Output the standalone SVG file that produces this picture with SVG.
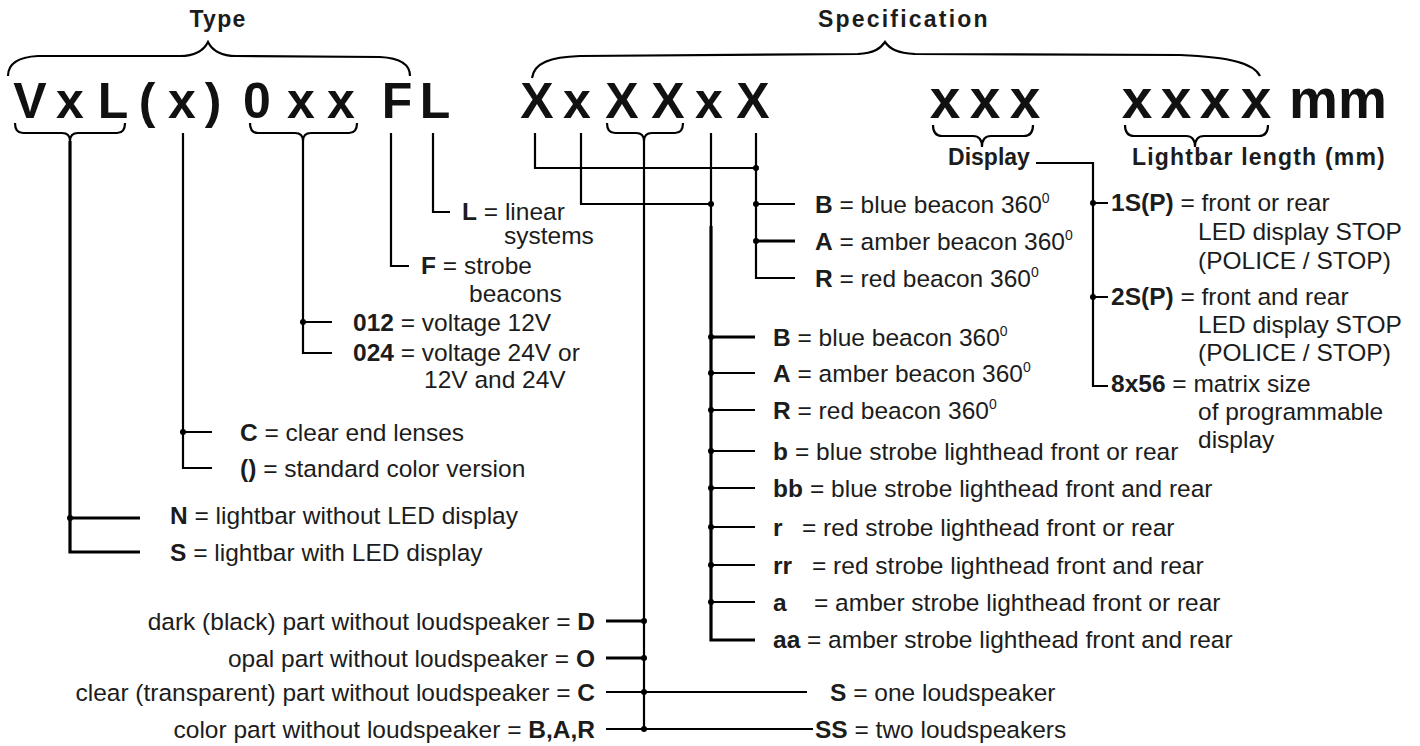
<svg xmlns="http://www.w3.org/2000/svg" width="1420" height="746" viewBox="0 0 1420 746">
<style>
text{font-family:"Liberation Sans",Arial,sans-serif;fill:#1c1c1c}
.big{font-size:50px;font-weight:bold;text-anchor:middle;fill:#111}
.big2{font-size:55px;font-weight:bold;text-anchor:middle;fill:#111}
.mm{font-size:55px;font-weight:bold;text-anchor:start;fill:#111}
.hd{font-size:23px;font-weight:bold}
.t{font-size:24.5px}
.b{font-weight:bold}
.sup{font-size:14px}
.ln{fill:none;stroke:#000;stroke-width:2.2}
.th{fill:none;stroke:#000;stroke-width:3.2}
.br{fill:none;stroke:#000;stroke-width:2.2}
.dot{fill:#000}
</style>
<rect width="1420" height="746" fill="#fff"/>

<g id="type-header">
<text class="hd" x="218" y="27" text-anchor="middle" letter-spacing="1.3">Type</text>
<path class="br" d="M8 76 C8 63 18 57 38 56 L180 56 C197 56 204 50 208 42 C212 50 219 56 236 56 L380 57 C400 58 410 64 410 76"/>
</g>
<g id="spec-header">
<text class="hd" x="818" y="27" letter-spacing="2.2">Specification</text>
<path class="br" d="M532 78 C534 63 550 57 580 56 L858 54 C874 53 880 49 885 42 C890 49 897 53 915 54 L1180 55 C1232 57 1254 64 1260 76"/>
</g>

<g id="code-type">
<text class="big" x="30" y="118">V</text>
<text class="big" x="70" y="118">x</text>
<text class="big" x="113" y="118">L</text>
<text class="big" x="147" y="118">(</text>
<text class="big" x="182" y="118">x</text>
<text class="big" x="213" y="118">)</text>
<text class="big" x="257" y="118">0</text>
<text class="big" x="301" y="118">x</text>
<text class="big" x="341" y="118">x</text>
<text class="big" x="397" y="118">F</text>
<text class="big" x="435" y="118">L</text>
</g>
<g id="code-spec">
<text class="big" x="537" y="118">X</text>
<text class="big" x="577" y="118">x</text>
<text class="big" x="622" y="118">X</text>
<text class="big" x="668" y="118">X</text>
<text class="big" x="709" y="118">x</text>
<text class="big" x="753" y="118">X</text>
</g>
<g id="code-display">
<text class="big2" x="945" y="118">x</text>
<text class="big2" x="985" y="118">x</text>
<text class="big2" x="1025" y="118">x</text>
<text class="hd" x="989" y="165" text-anchor="middle">Display</text>
</g>
<g id="code-length">
<text class="big2" x="1137" y="118">x</text>
<text class="big2" x="1176" y="118">x</text>
<text class="big2" x="1215" y="118">x</text>
<text class="big2" x="1256" y="118">x</text>
<text class="mm" x="1289" y="118">mm</text>
<text class="hd" x="1132" y="165" letter-spacing="1.2">Lightbar length (mm)</text>
</g>

<g id="connectors">
<path class="br" d="M15 123 Q15 133 23 133 H62 Q70 133 70 141 Q70 133 78 133 H117 Q125 133 125 123"/>
<path class="br" d="M250 123 Q250 133 258 133 H295 Q303 133 303 141 Q303 133 311 133 H349 Q357 133 357 123"/>
<path class="br" d="M607 123 Q607 133 615 133 H636 Q644 133 644 141 Q644 133 652 133 H675 Q683 133 683 123"/>
<path class="br" d="M933 125 Q933 136 942 136 H973 Q982 136 982 147 Q982 136 991 136 H1024 Q1033 136 1033 125"/>
<path class="br" d="M1125 125 Q1125 136 1134 136 H1186 Q1195 136 1195 147 Q1195 136 1204 136 H1259 Q1268 136 1268 125"/>
<path class="th" d="M70 141 V552 H140 M70 518 H140"/>
<circle class="dot" cx="70" cy="518" r="3"/>
<path class="ln" d="M183 133 V468 H212 M183 432 H212"/>
<circle class="dot" cx="183" cy="432" r="3"/>
<path class="ln" d="M303 141 V353 H332 M303 322 H332"/>
<circle class="dot" cx="303" cy="322" r="3"/>
<path class="ln" d="M391 133 V266 H409"/>
<path class="ln" d="M433 133 V212 H450"/>
<path class="ln" d="M535 133 V168 H756"/>
<path class="ln" d="M756 133 V278 H795 M756 204 H795"/>
<path class="th" d="M756 241 H795"/>
<circle class="dot" cx="756" cy="168" r="3"/>
<circle class="dot" cx="756" cy="204" r="3"/>
<circle class="dot" cx="756" cy="241" r="3"/>
<path class="ln" d="M581 133 V204 H711 M711 133 V226"/>
<circle class="dot" cx="711" cy="204" r="3"/>
<path class="th" d="M711 226 V640 H755 M711 337 H755"/>
<path class="ln" d="M711 373 H755 M711 410 H755 M711 451 H755 M711 488 H755 M711 527 H755 M711 565 H755 M711 602 H755"/>
<circle class="dot" cx="711" cy="337" r="3"/>
<circle class="dot" cx="711" cy="373" r="3"/>
<circle class="dot" cx="711" cy="410" r="3"/>
<circle class="dot" cx="711" cy="451" r="3"/>
<circle class="dot" cx="711" cy="488" r="3"/>
<circle class="dot" cx="711" cy="527" r="3"/>
<circle class="dot" cx="711" cy="565" r="3"/>
<circle class="dot" cx="711" cy="602" r="3"/>
<path class="ln" d="M644 141 V729"/>
<path class="th" d="M606 621 H644 M606 658 H644"/>
<path class="ln" d="M606 692 H807 M606 729 H813"/>
<circle class="dot" cx="644" cy="621" r="3"/>
<circle class="dot" cx="644" cy="658" r="3"/>
<circle class="dot" cx="644" cy="692" r="3"/>
<circle class="dot" cx="644" cy="729" r="3"/>
<path class="ln" d="M1036 163 H1093 V386 H1108 M1093 203 H1108 M1093 297 H1108"/>
<circle class="dot" cx="1093" cy="203" r="3"/>
<circle class="dot" cx="1093" cy="297" r="3"/>
</g>

<g id="opt-L"><text class="t" x="462" y="220"><tspan class="b">L</tspan> = linear</text><text class="t" x="504" y="244">systems</text></g>
<g id="opt-F"><text class="t" x="421" y="274"><tspan class="b">F</tspan> = strobe</text><text class="t" x="469" y="302">beacons</text></g>
<g id="opt-012"><text class="t" x="353" y="331"><tspan class="b">012</tspan> = voltage 12V</text></g>
<g id="opt-024"><text class="t" x="353" y="361"><tspan class="b">024</tspan> = voltage 24V or</text><text class="t" x="424" y="388">12V and 24V</text></g>
<g id="opt-C"><text class="t" x="240" y="441"><tspan class="b">C</tspan> = clear end lenses</text></g>
<g id="opt-std"><text class="t" x="240" y="477"><tspan class="b">()</tspan> = standard color version</text></g>
<g id="opt-N"><text class="t" x="170" y="524"><tspan class="b">N</tspan> = lightbar without LED display</text></g>
<g id="opt-S"><text class="t" x="170" y="561"><tspan class="b">S</tspan> = lightbar with LED display</text></g>

<g id="top-B"><text class="t" x="815" y="213"><tspan class="b">B</tspan> = blue beacon 360<tspan class="sup" dy="-10">0</tspan></text></g>
<g id="top-A"><text class="t" x="815" y="250"><tspan class="b">A</tspan> = amber beacon 360<tspan class="sup" dy="-10">0</tspan></text></g>
<g id="top-R"><text class="t" x="815" y="287"><tspan class="b">R</tspan> = red beacon 360<tspan class="sup" dy="-10">0</tspan></text></g>

<g id="mid-B"><text class="t" x="773" y="346"><tspan class="b">B</tspan> = blue beacon 360<tspan class="sup" dy="-10">0</tspan></text></g>
<g id="mid-A"><text class="t" x="773" y="382"><tspan class="b">A</tspan> = amber beacon 360<tspan class="sup" dy="-10">0</tspan></text></g>
<g id="mid-R"><text class="t" x="773" y="419"><tspan class="b">R</tspan> = red beacon 360<tspan class="sup" dy="-10">0</tspan></text></g>
<g id="mid-b"><text class="t" x="773" y="460"><tspan class="b">b</tspan><tspan x="795">= blue strobe lighthead front or rear</tspan></text></g>
<g id="mid-bb"><text class="t" x="773" y="497"><tspan class="b">bb</tspan><tspan x="810">= blue strobe lighthead front and rear</tspan></text></g>
<g id="mid-r"><text class="t" x="773" y="536"><tspan class="b">r</tspan><tspan x="802">= red strobe lighthead front or rear</tspan></text></g>
<g id="mid-rr"><text class="t" x="773" y="574"><tspan class="b">rr</tspan><tspan x="812">= red strobe lighthead front and rear</tspan></text></g>
<g id="mid-a"><text class="t" x="773" y="611"><tspan class="b">a</tspan><tspan x="814">= amber strobe lighthead front or rear</tspan></text></g>
<g id="mid-aa"><text class="t" x="773" y="648"><tspan class="b">aa</tspan><tspan x="807">= amber strobe lighthead front and rear</tspan></text></g>

<g id="disp-1S"><text class="t" x="1111" y="211"><tspan class="b">1S(P)</tspan> = front or rear</text><text class="t" x="1198" y="240">LED display STOP</text><text class="t" x="1198" y="269">(POLICE / STOP)</text></g>
<g id="disp-2S"><text class="t" x="1111" y="305"><tspan class="b">2S(P)</tspan> = front and rear</text><text class="t" x="1198" y="333">LED display STOP</text><text class="t" x="1198" y="361">(POLICE / STOP)</text></g>
<g id="disp-8x56"><text class="t" x="1111" y="392"><tspan class="b">8x56</tspan> = matrix size</text><text class="t" x="1198" y="420">of programmable</text><text class="t" x="1198" y="448">display</text></g>

<g id="part-D"><text class="t" x="595" y="630" text-anchor="end">dark (black) part without loudspeaker = <tspan class="b">D</tspan></text></g>
<g id="part-O"><text class="t" x="595" y="667" text-anchor="end">opal part without loudspeaker = <tspan class="b">O</tspan></text></g>
<g id="part-C"><text class="t" x="595" y="701" text-anchor="end">clear (transparent) part without loudspeaker = <tspan class="b">C</tspan></text></g>
<g id="part-BAR"><text class="t" x="595" y="738" text-anchor="end">color part without loudspeaker = <tspan class="b">B,A,R</tspan></text></g>
<g id="spk-S"><text class="t" x="830" y="701"><tspan class="b">S</tspan> = one loudspeaker</text></g>
<g id="spk-SS"><text class="t" x="815" y="738"><tspan class="b">SS</tspan> = two loudspeakers</text></g>
</svg>
